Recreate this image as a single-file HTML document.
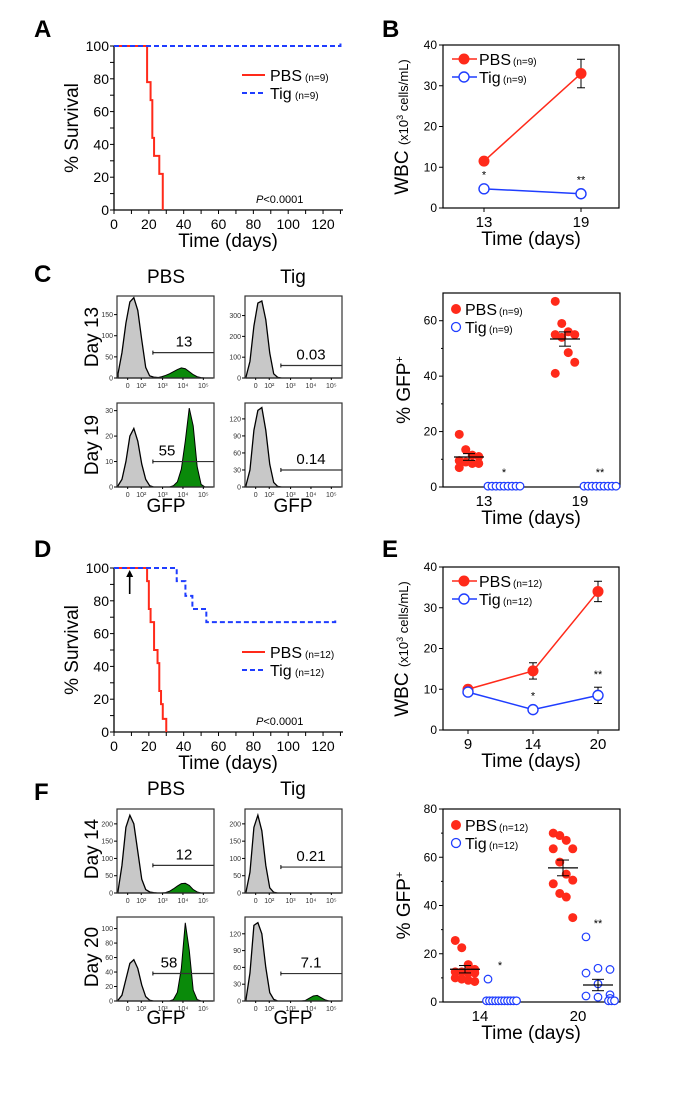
<!DOCTYPE html>
<html><head><meta charset="utf-8"><style>
html,body{margin:0;padding:0;background:#fff;}
svg{display:block;font-family:"Liberation Sans",Arial,sans-serif;}
</style></head><body>
<svg id="fig" width="700" height="1100" viewBox="0 0 700 1100" xmlns="http://www.w3.org/2000/svg"></svg>
<script>
// ---------- DATA ----------
const survA_pbsTimes=[19,21,22,23,26,28];
const survA_pbsVals=[78,67,44,33,22,0];
const survA_tigTimes=[];
const survA_tigVals=[];
const survD_pbsTimes=[19,20,21,23,25,26,27,28,30];
const survD_pbsVals=[92,75,67,50,42,25,17,8,0];
const survD_tigTimes=[36,41,45,53];
const survD_tigVals=[92,83,75,67];
const survXTicks=[0,20,40,60,80,100,120];
const survYTicks=[0,20,40,60,80,100];

const wbcB_days=["13","19"];
const wbcB_pbs=[11.5,33];
const wbcB_pbsErr=[0.5,3.5];
const wbcB_tig=[4.7,3.5];
const wbcB_tigErr=[0.3,0.3];
const wbcB_sig=["*","**"];
const wbcE_days=["9","14","20"];
const wbcE_pbs=[10,14.5,34];
const wbcE_pbsErr=[0.3,2,2.5];
const wbcE_tig=[9.3,5,8.5];
const wbcE_tigErr=[0.3,0.3,2];
const wbcE_sig=["","*","**"];
const wbcYTicks=[0,10,20,30,40];

const gfpC_days=["13","19"];
const gfpC_pbs=[[19,13.5,11.5,11,9.5,9,8.5,8.5,7],[67,59,56,55,55,54,48.5,45,41]];
const gfpC_tig=[[0.3,0.3,0.3,0.3,0.3,0.3,0.3,0.3,0.3],[0.3,0.3,0.3,0.3,0.3,0.3,0.3,0.3,0.3]];
const gfpC_sig=["*","**"];
const gfpCYTicks=[0,20,40,60];
const gfpF_days=["14","20"];
const gfpF_pbs=[[25.5,22.5,15.5,13.5,12.5,12.5,12,12,10,9.5,9,8.5],[70,69,67,63.5,63.5,58,53,50.5,49,45,43.5,35]];
const gfpF_tig=[[9.5,0.5,0.5,0.5,0.5,0.5,0.5,0.5,0.5,0.5,0.5,0.5],[27,14,13.5,12,7.5,3,2.5,2,1.5,0.5,0.5,0.5]];
const gfpF_sig=["*","**"];
const gfpFYTicks=[0,20,40,60,80];

// histogram counts sampled at 25 evenly spaced points across GFP axis
const hC13p_gray=[10,60,130,180,190,160,90,25,5,2,1,0,0,0,0,0,0,0,0,0,0,0,0,0,0];
const hC13p_green=[0,0,0,0,0,0,0,0,0,0,1,3,6,10,15,20,24,22,15,8,3,1,0,0,0];
const hC13t_gray=[5,80,250,360,370,280,120,20,3,0,0,0,0,0,0,0,0,0,0,0,0,0,0,0,0];
const hC19p_gray=[0.5,3,10,20,23,18,9,3,0.5,0,0,0,0,0,0,0,0,0,0,0,0,0,0,0,0];
const hC19p_green=[0,0,0,0,0,0,0,0,0,0,0,0,0,0,0.5,2,7,18,31,24,8,1,0,0,0];
const hC19t_gray=[3,30,100,135,140,100,40,8,1,0,0,0,0,0,0,0,0,0,0,0,0,0,0,0,0];
const hF14p_gray=[5,80,190,225,200,120,40,10,3,1,0,0,0,0,0,0,0,0,0,0,0,0,0,0,0];
const hF14p_green=[0,0,0,0,0,0,0,0,0,0,0,0,1,5,12,20,27,28,22,10,3,0,0,0,0];
const hF14t_gray=[3,60,190,225,180,80,15,2,0,0,0,0,0,0,0,0,0,0,0,0,0,0,0,0,0];
const hF20p_gray=[1,8,30,52,57,45,22,6,1,0,0,0,0,0,0,0,0,0,0,0,0,0,0,0,0];
const hF20p_green=[0,0,0,0,0,0,0,0,0,0,0,0,0,0,2,12,45,108,70,15,2,0,0,0,0];
const hF20t_gray=[3,50,135,140,120,60,15,3,0,0,0,0,0,0,0,0,0,0,0,0,0,0,0,0,0];
const hF20t_green=[0,0,0,0,0,0,0,0,0,0,0,0,0,0,0,1,5,9,10,6,2,0,0,0,0];

// ---------- HELPERS ----------
const NS="http://www.w3.org/2000/svg";
const svg=document.getElementById('fig');
function el(tag,attrs,parent,txt){const e=document.createElementNS(NS,tag);for(const k in attrs)e.setAttribute(k,attrs[k]);if(txt!==undefined)e.textContent=txt;(parent||svg).appendChild(e);return e;}
function grp(name){const g=el('g',{});


return g;}
function txt(p,x,y,s,size,anchor,name,extra){const t=el('text',Object.assign({x:x,y:y,'font-size':size,'text-anchor':anchor||'middle',fill:'#000'},extra||{}),p,s);


return t;}
function line(p,x1,y1,x2,y2,st,w,name,extra){const l=el('line',Object.assign({x1:x1,y1:y1,x2:x2,y2:y2,stroke:st||'#000','stroke-width':w||1},extra||{}),p);
if(name){
}
return l;}
function panelLabel(s,x,y){const t=txt(svg,x,y,s,24,'start','panel-label-'+s.toLowerCase(),{'font-weight':'bold'});}
function rotText(p,x,y,s,size,name){const t=txt(p,x,y,s,size,'middle',name,{transform:`rotate(-90 ${x} ${y})`});return t;}

// ---------- SURVIVAL ----------
function survival(name,top,pT,pV,tT,tV,tEnd,n,arrow){
  const g=grp(name);
  const X=t=>114+t*1.742, Y=v=>top+(100-v)*1.64;
  line(g,114,Y(100),114,Y(0)+0.5,'#000',1.3,'y-axis');
  line(g,113.5,Y(0),343,Y(0),'#000',1.3,'x-axis');
  for(let v=0;v<=100;v+=10)line(g,110,Y(v),114,Y(v));
  for(let t=0;t<=130;t+=10)line(g,X(t),Y(0),X(t),Y(0)+4);
  survYTicks.forEach(v=>txt(g,109,Y(v)+5,String(v),14,'end','y-tick-label'));
  survXTicks.forEach(t=>txt(g,X(t),Y(0)+19,String(t),14,'middle','x-tick-label'));
  rotText(g,78,Y(50),'% Survival',19,'y-axis-title');
  txt(g,228,Y(0)+37,'Time (days)',19,'middle','x-axis-title');
  let d=`M${X(0)},${Y(100)}`;pT.forEach((t,i)=>{d+=` H${X(t)} V${Y(pV[i])}`;});
  const p=el('path',{d:d,fill:'none',stroke:'#ff2a1a','stroke-width':2},g);
  
  
  let d2=`M${X(0)},${Y(100)}`;tT.forEach((t,i)=>{d2+=` H${X(t)} V${Y(tV[i])}`;});
  const last=tV.length?tV[tV.length-1]:100;d2+=` H${X(tEnd)} V${Y(last)-4}`;
  const q=el('path',{d:d2,fill:'none',stroke:'#1f3dff','stroke-width':2,'stroke-dasharray':'5,3'},g);
  
  
  const ly=top+(n==='(n=9)'?29:84);
  line(g,242,ly,265,ly,'#ff2a1a',2,'legend-pbs-line');
  txt(g,270,ly+6,'PBS',16,'start','legend-pbs-label');txt(g,305,ly+6,n,10,'start','legend-pbs-n');
  line(g,242,ly+18,265,ly+18,'#1f3dff',2,'legend-tig-line',{'stroke-dasharray':'5,3'});
  txt(g,270,ly+24,'Tig',16,'start','legend-tig-label');txt(g,295,ly+24,n,10,'start','legend-tig-n');
  const pv=txt(g,256,Y(0)-7,'',11,'start','p-value');
  el('tspan',{'font-style':'italic'},pv,'P');el('tspan',{},pv,'<0.0001');
  if(arrow){line(g,X(9),Y(100)+26,X(9),Y(100)+6,'#000',1.6,'treatment-arrow');
    const a=el('path',{d:`M${X(9)-3.5},${Y(100)+9} L${X(9)},${Y(100)+2} L${X(9)+3.5},${Y(100)+9}Z`,fill:'#000'},g);
    }
}
panelLabel('A',34,37);
survival('survival-chart-a',46,survA_pbsTimes,survA_pbsVals,survA_tigTimes,survA_tigVals,130,'(n=9)',false);
panelLabel('D',34,557);
survival('survival-chart-d',568,survD_pbsTimes,survD_pbsVals,survD_tigTimes,survD_tigVals,127,'(n=12)',true);

// ---------- WBC ----------
function wbc(name,top,cats,pbs,pe,tig,te,sig,n){
  const g=grp(name);
  const bottom=top+163, Y=v=>bottom-v*163/40;
  const X=i=>cats.length===2?484+i*97:468+i*65;
  el('rect',{x:443,y:top,width:176,height:163,fill:'none',stroke:'#000','stroke-width':1.2},g);
  wbcYTicks.forEach(v=>{line(g,439,Y(v),443,Y(v));txt(g,437,Y(v)+4,String(v),12,'end','y-tick-label');});
  cats.forEach((c,i)=>{line(g,X(i),bottom,X(i),bottom+4);txt(g,X(i),bottom+19,c,15,'middle','x-tick-label');});
  const t=txt(g,408,top+82,'',19,'middle','y-axis-title',{transform:`rotate(-90 408 ${top+82})`});
  el('tspan',{},t,'WBC ');const s=el('tspan',{'font-size':13},t,'(x10');el('tspan',{'font-size':9,dy:-5},t,'3');el('tspan',{'font-size':13,dy:5},t,' cells/mL)');
  txt(g,531,bottom+37,'Time (days)',19,'middle','x-axis-title');
  const pl=el('polyline',{points:pbs.map((v,i)=>X(i)+','+Y(v)).join(' '),fill:'none',stroke:'#ff2a1a','stroke-width':1.5},g);
  
  const tl=el('polyline',{points:tig.map((v,i)=>X(i)+','+Y(v)).join(' '),fill:'none',stroke:'#1f3dff','stroke-width':1.5},g);
  
  pbs.forEach((v,i)=>{if(pe[i]>1){line(g,X(i),Y(v+pe[i]),X(i),Y(v-pe[i]),'#000',1,'pbs-error-bar');line(g,X(i)-4,Y(v+pe[i]),X(i)+4,Y(v+pe[i]));line(g,X(i)-4,Y(v-pe[i]),X(i)+4,Y(v-pe[i]));}
    const c=el('circle',{cx:X(i),cy:Y(v),r:5.5,fill:'#ff2a1a'},g);});
  tig.forEach((v,i)=>{if(te[i]>1){line(g,X(i),Y(v+te[i]),X(i),Y(v-te[i]),'#000',1,'tig-error-bar');line(g,X(i)-4,Y(v+te[i]),X(i)+4,Y(v+te[i]));line(g,X(i)-4,Y(v-te[i]),X(i)+4,Y(v-te[i]));}
    const c=el('circle',{cx:X(i),cy:Y(v),r:5,fill:'#fff',stroke:'#1f3dff','stroke-width':1.4},g);
    if(sig[i])txt(g,X(i),Y(v+te[i])-9,sig[i],11,'middle','significance-mark');});
  const ly=top+14;
  line(g,452,ly,477,ly,'#ff2a1a',1.5,'legend-pbs-line');
  const c1=el('circle',{cx:464,cy:ly,r:5.5,fill:'#ff2a1a'},g);
  txt(g,479,ly+6,'PBS',16,'start','legend-pbs-label');txt(g,513,ly+6,n,10,'start','legend-pbs-n');
  line(g,452,ly+18,477,ly+18,'#1f3dff',1.5,'legend-tig-line');
  const c2=el('circle',{cx:464,cy:ly+18,r:5,fill:'#fff',stroke:'#1f3dff','stroke-width':1.4},g);
  txt(g,479,ly+24,'Tig',16,'start','legend-tig-label');txt(g,503,ly+24,n,10,'start','legend-tig-n');
}
panelLabel('B',382,37);
wbc('wbc-chart-b',45,wbcB_days,wbcB_pbs,wbcB_pbsErr,wbcB_tig,wbcB_tigErr,wbcB_sig,'(n=9)');
panelLabel('E',382,557);
wbc('wbc-chart-e',567,wbcE_days,wbcE_pbs,wbcE_pbsErr,wbcE_tig,wbcE_tigErr,wbcE_sig,'(n=12)');

// ---------- GFP SCATTER ----------
function gfp(name,top,bottom,ymax,ticks,cats,pbs,tig,sig,n,centers){
  const g=grp(name);
  const Y=v=>bottom-v*(bottom-top)/ymax;
  el('rect',{x:443,y:top,width:177,height:bottom-top,fill:'none',stroke:'#000','stroke-width':1.2},g);
  ticks.forEach(v=>{line(g,439,Y(v),443,Y(v));txt(g,437,Y(v)+4,String(v),12,'end','y-tick-label');});
  for(let v=10;v<ymax;v+=20)line(g,441,Y(v),443,Y(v));
  cats.forEach((c,i)=>txt(g,centers[i],bottom+19,c,15,'middle','x-tick-label'));
  const t=txt(g,410,(top+bottom)/2,'',19,'middle','y-axis-title',{transform:`rotate(-90 410 ${(top+bottom)/2})`});
  el('tspan',{},t,'% GFP');el('tspan',{'font-size':11,dy:-7},t,'+');
  txt(g,531,bottom+37,'Time (days)',19,'middle','x-axis-title');
  const stats=a=>{const m=a.reduce((s,v)=>s+v,0)/a.length;const sd=Math.sqrt(a.reduce((s,v)=>s+(v-m)*(v-m),0)/(a.length-1));return [m,sd/Math.sqrt(a.length)];};
  cats.forEach((c,i)=>{
    const pc=centers[i]-15, tc=centers[i]+20;
    pbs[i].forEach((v,j)=>{const off=((j%4)-1.5)*6.5;const d=el('circle',{cx:pc+off,cy:Y(v),r:4.5,fill:'#ff2a1a'},g);
      });
    tig[i].forEach((v,j)=>{const off=v<1.5?(j-(tig[i].length-1)/2)*(36/tig[i].length):((j%3)-1)*12;const d=el('circle',{cx:tc+off,cy:Y(v),r:3.8,fill:'#fff',stroke:'#1f3dff','stroke-width':1.2},g);
      });
    [[pbs[i],pc],[tig[i],tc]].forEach(([a,cx],k)=>{const [m,se]=stats(a);
      if(m>2||k===0){line(g,cx-15,Y(m),cx+15,Y(m),'#000',1.2,'mean-line');
      line(g,cx,Y(m+se),cx,Y(m-se));line(g,cx-6,Y(m+se),cx+6,Y(m+se));line(g,cx-6,Y(m-se),cx+6,Y(m-se));}
      if(k===1){const hi=Math.max(...a);txt(g,cx,Y(hi)-10,sig[i],11,'middle','significance-mark');}});
  });
  const ly=top+16;
  const c1=el('circle',{cx:456,cy:ly,r:5,fill:'#ff2a1a'},g);
  txt(g,465,ly+6,'PBS',16,'start','legend-pbs-label');txt(g,499,ly+6,n,10,'start','legend-pbs-n');
  const c2=el('circle',{cx:456,cy:ly+18,r:4.5,fill:'#fff',stroke:'#1f3dff','stroke-width':1.3},g);
  txt(g,465,ly+24,'Tig',16,'start','legend-tig-label');txt(g,489,ly+24,n,10,'start','legend-tig-n');
}
gfp('gfp-scatter-c',293,487,70,gfpCYTicks,gfpC_days,gfpC_pbs,gfpC_tig,gfpC_sig,'(n=9)',[484,580]);
gfp('gfp-scatter-f',809,1002,80,gfpFYTicks,gfpF_days,gfpF_pbs,gfpF_tig,gfpF_sig,'(n=12)',[480,578]);

// ---------- HISTOGRAMS ----------
function hist(name,x0,top,bottom,ymax,ticks,gray,green,gateY,label,labelX){
  const g=grp(name);const w=97;
  const X=i=>x0+1+i*(w-2)/24, Y=v=>bottom-v*(bottom-top)/ymax;
  const path=a=>{let d=`M${X(0)},${bottom}`;a.forEach((v,i)=>d+=` L${X(i)},${Y(v)}`);return d+` L${X(24)},${bottom}Z`;};
  if(green){const p=el('path',{d:path(green),fill:'#0a8a0a',stroke:'#000','stroke-width':1},g);}
  const p=el('path',{d:path(gray),fill:'#c8c8c8',stroke:'#000','stroke-width':1.3},g);
  el('rect',{x:x0,y:top,width:w,height:bottom-top,fill:'none',stroke:'#333','stroke-width':1.2},g);
  ticks.forEach(v=>{line(g,x0-3,Y(v),x0,Y(v));txt(g,x0-4,Y(v)+2.5,String(v),7,'end','y-tick-label',{fill:'#333'});});
  [['0',0.11],['10²',0.25],['10³',0.47],['10⁴',0.68],['10⁵',0.89]].forEach(([s,u])=>{line(g,x0+u*w,bottom,x0+u*w,bottom+2);txt(g,x0+u*w,bottom+10,s,7,'middle','x-tick-label',{fill:'#333'});});
  const gx=x0+0.37*w;
  line(g,gx,Y(gateY),x0+w,Y(gateY),'#333',1.2,'gate-line');line(g,gx,Y(gateY)-2,gx,Y(gateY)+2);
  txt(g,labelX,Y(gateY)-6,label,15,'middle','gate-percentage');
}
function histBlock(prefix,off,d){
  txt(svg,166,off+283,'PBS',19,'middle',prefix+'-pbs-title');txt(svg,293,off+283,'Tig',19,'middle',prefix+'-tig-title');
  rotText(svg,98,off+337,d[0],19,prefix+'-row1-label');rotText(svg,98,off+445,d[1],19,prefix+'-row2-label');
  txt(svg,166,off+512,'GFP',19,'middle',prefix+'-pbs-x-title');txt(svg,293,off+512,'GFP',19,'middle',prefix+'-tig-x-title');
}
panelLabel('C',34,282);
histBlock('histogram-c',0,['Day 13','Day 19']);
hist('hist-c-pbs-day13',117,296,378,194,[0,50,100,150],hC13p_gray,hC13p_green,60,'13',184);
hist('hist-c-tig-day13',245,296,378,394,[0,100,200,300],hC13t_gray,null,60,'0.03',311);
hist('hist-c-pbs-day19',117,403,487,33,[0,10,20,30],hC19p_gray,hC19p_green,10,'55',167);
hist('hist-c-tig-day19',245,403,487,148,[0,30,60,90,120],hC19t_gray,null,30,'0.14',311);
panelLabel('F',34,800);
histBlock('histogram-f',512,['Day 14','Day 20']);
hist('hist-f-pbs-day14',117,809,893,243,[0,50,100,150,200],hF14p_gray,hF14p_green,80,'12',184);
hist('hist-f-tig-day14',245,809,893,243,[0,50,100,150,200],hF14t_gray,null,75,'0.21',311);
hist('hist-f-pbs-day20',117,917,1001,116,[0,20,40,60,80,100],hF20p_gray,hF20p_green,38,'58',169);
hist('hist-f-tig-day20',245,917,1001,150,[0,30,60,90,120],hF20t_gray,hF20t_green,49,'7.1',311);
</script>
</body></html>
